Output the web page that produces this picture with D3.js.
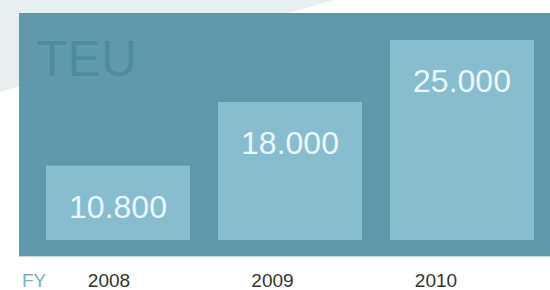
<!DOCTYPE html>
<html>
<head>
<meta charset="utf-8">
<script src="https://cdn.jsdelivr.net/npm/d3@7"></script>
<style>
  body { margin: 0; background: #fff; }
  svg { display: block; font-family: "Liberation Sans", Arial, sans-serif; }
</style>
</head>
<body>
<div id="chart"></div>
<script>
  // data
  var years = ["2008", "2009", "2010"];
  var teu = [10800, 18000, 25000];
  var unitLabel = "TEU";
  var axisLabel = "FY";

  var width = 550, height = 290;

  var svg = d3.select("#chart")
    .append("svg")
    .attr("width", width)
    .attr("height", height);

  // background: light grey with a white swoosh
  svg.append("rect")
    .attr("width", width)
    .attr("height", height)
    .attr("fill", "#e9eef1");
  svg.append("path")
    .attr("d", "M0,92 Q170,45 335,0 L550,0 L550,290 L0,290 Z")
    .attr("fill", "#ffffff");

  // panel
  var panel = {x: 19, y: 13, w: 531, h: 243};
  svg.append("rect")
    .attr("x", panel.x).attr("y", panel.y + 1)
    .attr("width", panel.w).attr("height", panel.h)
    .attr("fill", "#c9d9e0");
  svg.append("rect")
    .attr("x", panel.x).attr("y", panel.y)
    .attr("width", panel.w).attr("height", panel.h)
    .attr("fill", "#5f99ab");

  // scales
  var x = d3.scaleBand()
    .domain(years)
    .range([46, 534])
    .paddingInner(0.163)
    .paddingOuter(0);

  var y = d3.scaleLinear()
    .domain([2400, 25000])
    .range([240, 40]);

  var xLabel = d3.scalePoint()
    .domain(years)
    .range([109, 436]);

  var fmt = d3.formatLocale({decimal: ",", thousands: ".", grouping: [3], currency: ["", ""]}).format(",.0f");

  // unit label
  svg.append("text")
    .attr("x", 37)
    .attr("y", 76)
    .attr("font-size", 50)
    .attr("fill", "#4f8b9f")
    .text(unitLabel);

  var rows = years.map(function(d, i) { return {year: d, value: teu[i]}; });

  // bars
  svg.selectAll(".bar")
    .data(rows)
    .enter().append("rect")
    .attr("class", "bar")
    .attr("x", function(d) { return x(d.year); })
    .attr("y", function(d) { return y(d.value); })
    .attr("width", x.bandwidth())
    .attr("height", function(d) { return y.range()[0] - y(d.value); })
    .attr("fill", "#88bdd0");

  // value labels
  svg.selectAll(".val")
    .data(rows)
    .enter().append("text")
    .attr("class", "val")
    .attr("x", function(d) { return x(d.year) + x.bandwidth() / 2; })
    .attr("y", function(d) { return y(d.value) + 52; })
    .attr("text-anchor", "middle")
    .attr("font-size", 32)
    .attr("fill", "#e8f7fb")
    .text(function(d) { return fmt(d.value); });

  // axis labels
  svg.append("text")
    .attr("x", 22)
    .attr("y", 287)
    .attr("font-size", 19)
    .attr("fill", "#7eb0c1")
    .text(axisLabel);

  svg.selectAll(".year")
    .data(years)
    .enter().append("text")
    .attr("class", "year")
    .attr("x", function(d) { return xLabel(d); })
    .attr("y", 287)
    .attr("text-anchor", "middle")
    .attr("font-size", 19)
    .attr("fill", "#333333")
    .text(function(d) { return d; });
</script>
</body>
</html>
